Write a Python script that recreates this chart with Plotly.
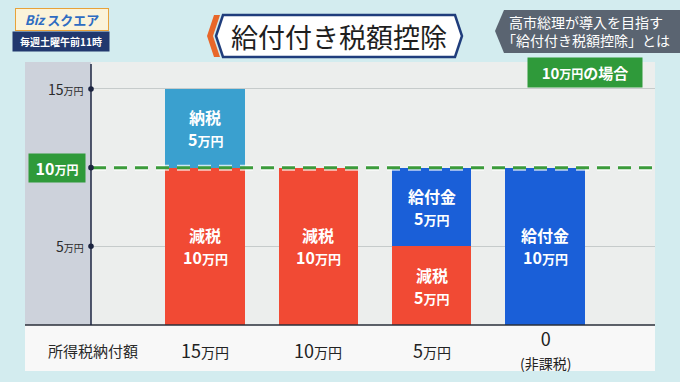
import plotly.graph_objects as go

# ---------------- data ----------------
categories = ["15万円", "10万円", "5万円", "0(非課税)"]   # income-tax payment per household
tax_cut = [10, 10, 5, 0]        # 減税 (万円)
tax_paid = [5, 0, 0, 0]         # 納税 (万円)
benefit = [0, 0, 5, 10]         # 給付金 (万円)
bottom_nums = ["15", "10", "5", "0"]
bottom_notes = ["", "", "", "(非課税)"]
y_ticks = [5, 15]
threshold = 10

FONT = "Noto Sans CJK JP, Noto Sans, sans-serif"
W, H = 680, 382
L, R, T, B = 91, 25, 66, 57          # plot area: x 91..655, y 66..325
PW, PH = W - L - R, H - T - B
YMAX = 16.46


def px(x):
    return (x - L) / PW


def py(y):
    return (H - B - y) / PH


def yen(v, small):
    return f"{v}<span style='font-size:{small}px'>万円</span>"


RED = "#f14a34"
LBLUE = "#3aa0cf"
BLUE = "#1a5fd8"
GREEN = "#2f9a3a"

series = [("減税", tax_cut, RED), ("納税", tax_paid, LBLUE), ("給付金", benefit, BLUE)]

fig = go.Figure()
annotations = []
base = [0] * len(categories)
for name, vals, col in series:
    fig.add_trace(go.Bar(
        x=categories, y=vals, name=name, marker=dict(color=col, line=dict(width=0)),
        hoverinfo="skip",
    ))
    for i, v in enumerate(vals):
        if v > 0:
            mid = base[i] + v / 2
            annotations.append(dict(xref="x", yref="y", x=i, y=mid, yshift=11, xanchor="center",
                                    yanchor="middle", text=name, showarrow=False,
                                    font=dict(family=FONT, size=16, color="white", weight=600)))
            annotations.append(dict(xref="x", yref="y", x=i, y=mid, yshift=-11, xanchor="center",
                                    yanchor="middle", text=yen(v, 13), showarrow=False,
                                    font=dict(family=FONT, size=16, color="white", weight=600)))
        base[i] += v

shapes = []
shapes.append(dict(type="rect", xref="paper", yref="paper", x0=px(25), x1=px(655), y0=py(325), y1=py(62),
                   fillcolor="#eceeed", line_width=0, layer="below"))
shapes.append(dict(type="rect", xref="paper", yref="paper", x0=px(25), x1=px(91), y0=py(325), y1=py(62),
                   fillcolor="#cdd2db", line_width=0, layer="below"))
shapes.append(dict(type="rect", xref="paper", yref="paper", x0=px(25), x1=px(655), y0=py(371), y1=py(325),
                   fillcolor="#f8f8f8", line_width=0, layer="below"))
# x baseline and y axis line
shapes.append(dict(type="line", xref="paper", yref="paper", x0=px(25), x1=px(655), y0=py(325), y1=py(325),
                   line=dict(color="#2a2f3a", width=1.5), layer="above"))
shapes.append(dict(type="line", xref="paper", yref="paper", x0=px(91), x1=px(91), y0=py(325), y1=py(64),
                   line=dict(color="#1c2440", width=1.5), layer="above"))
# threshold dashed line (light halo + green dashes)
shapes.append(dict(type="line", xref="paper", yref="y", x0=px(93), x1=px(655), y0=threshold, y1=threshold,
                   line=dict(color="rgba(255,255,255,0.75)", width=6, dash="13px,8px"), layer="above"))
shapes.append(dict(type="line", xref="paper", yref="y", x0=px(93), x1=px(655), y0=threshold, y1=threshold,
                   line=dict(color="#3b9b3b", width=3, dash="13px,8px"), layer="above"))
# dots on axis
for v in y_ticks + [threshold]:
    r = 2.8
    yc = H - B - v * PH / YMAX
    shapes.append(dict(type="circle", xref="paper", yref="paper",
                       x0=px(91 - r), x1=px(91 + r), y0=py(yc + r), y1=py(yc - r),
                       fillcolor="#1c2440", line_width=0, layer="above"))
# title banner
shapes.append(dict(type="path", xref="paper", yref="paper",
                   path=f"M {px(214)},{py(15)} L {px(207)},{py(36)} L {px(214)},{py(57)} L {px(220)},{py(57)} L {px(213)},{py(36)} L {px(220)},{py(15)} Z",
                   fillcolor="#e8672a", line_width=0, layer="above"))
shapes.append(dict(type="path", xref="paper", yref="paper",
                   path=f"M {px(223)},{py(15)} L {px(455)},{py(15)} L {px(462)},{py(36)} L {px(455)},{py(57)} L {px(223)},{py(57)} L {px(216)},{py(36)} Z",
                   fillcolor="white", line=dict(color="#1f3d7c", width=2.5), layer="above"))
# gray box top right
shapes.append(dict(type="path", xref="paper", yref="paper",
                   path=f"M {px(504)},{py(10)} L {px(680)},{py(10)} L {px(680)},{py(53)} L {px(504)},{py(53)} L {px(495)},{py(31)} Z",
                   fillcolor="#5a6471", line_width=0, layer="above"))

for v in y_ticks:
    annotations.append(dict(xref="paper", yref="y", x=px(86), y=v, xanchor="right", yanchor="middle",
                            text=yen(v, 10), showarrow=False,
                            font=dict(family=FONT, size=14, color="#2a2a2a")))
annotations.append(dict(xref="paper", yref="y", x=px(57), y=threshold, xanchor="center", yanchor="middle",
                        text=f"<b>{threshold}<span style='font-size:12px'>万円</span></b>", showarrow=False,
                        bgcolor=GREEN, borderpad=2, width=52,
                        font=dict(family=FONT, size=16, color="white")))
annotations.append(dict(xref="paper", yref="paper", x=px(93), y=py(350), xanchor="center", yanchor="middle",
                        text="所得税納付額", showarrow=False, font=dict(family=FONT, size=15, color="#2a2a2a")))
for i, (num, note) in enumerate(zip(bottom_nums, bottom_notes)):
    if note:
        annotations.append(dict(xref="x", yref="paper", x=i, y=py(349), xanchor="center", yanchor="middle",
                                text=f"{num}<br><span style='font-size:14px'>{note}</span>", showarrow=False,
                                font=dict(family=FONT, size=18, color="#222")))
    else:
        annotations.append(dict(xref="x", yref="paper", x=i, y=py(350), xanchor="center", yanchor="middle",
                                text=yen(num, 14), showarrow=False,
                                font=dict(family=FONT, size=18, color="#222")))
annotations.append(dict(xref="paper", yref="paper", x=px(339), y=py(36), xanchor="center", yanchor="middle",
                        text="給付付き税額控除", showarrow=False, font=dict(family=FONT, size=27, color="#1e1e1e")))
annotations.append(dict(xref="paper", yref="paper", x=px(586), y=py(31), xanchor="center", yanchor="middle",
                        text="高市総理が導入を目指す<br>「給付付き税額控除」とは", showarrow=False,
                        font=dict(family=FONT, size=14, color="white")))
annotations.append(dict(xref="paper", yref="paper", x=px(585), y=py(73), xanchor="center", yanchor="middle",
                        text="<b>10<span style='font-size:12px'>万円</span>の場合</b>", showarrow=False,
                        bgcolor=GREEN, borderpad=4, width=106,
                        font=dict(family=FONT, size=15, color="white")))
annotations.append(dict(xref="paper", yref="paper", x=px(62), y=py(20), xanchor="center", yanchor="middle",
                        text="<b><i>Biz</i> スクエア</b>", showarrow=False, bgcolor="#fbf3d9",
                        bordercolor="#e7a23a", borderwidth=1, borderpad=1, width=90,
                        font=dict(family=FONT, size=13, color="#2e6cc2")))
annotations.append(dict(xref="paper", yref="paper", x=px(61), y=py(42), xanchor="center", yanchor="middle",
                        text="<b>毎週土曜午前11時</b>", showarrow=False, bgcolor="#21386e", borderpad=2, width=92,
                        font=dict(family=FONT, size=10, color="white")))

fig.update_layout(
    width=W, height=H, margin=dict(l=L, r=R, t=T, b=B),
    barmode="stack", bargap=0.3, showlegend=False,
    paper_bgcolor="#d3ecef", plot_bgcolor="#eceeed",
    xaxis=dict(type="category", range=[-1.006, 3.97], showticklabels=False, showgrid=False,
               zeroline=False, showline=False, fixedrange=True),
    yaxis=dict(range=[0, YMAX], tickvals=y_ticks, showticklabels=False, showgrid=True,
               gridcolor="#c6cbcb", gridwidth=1, zeroline=False, showline=False, fixedrange=True),
    shapes=shapes, annotations=annotations,
    font=dict(family=FONT),
)

fig.write_html("out.html", config={"displayModeBar": False},
               post_script="document.body.style.margin='0';document.body.style.padding='0';")
